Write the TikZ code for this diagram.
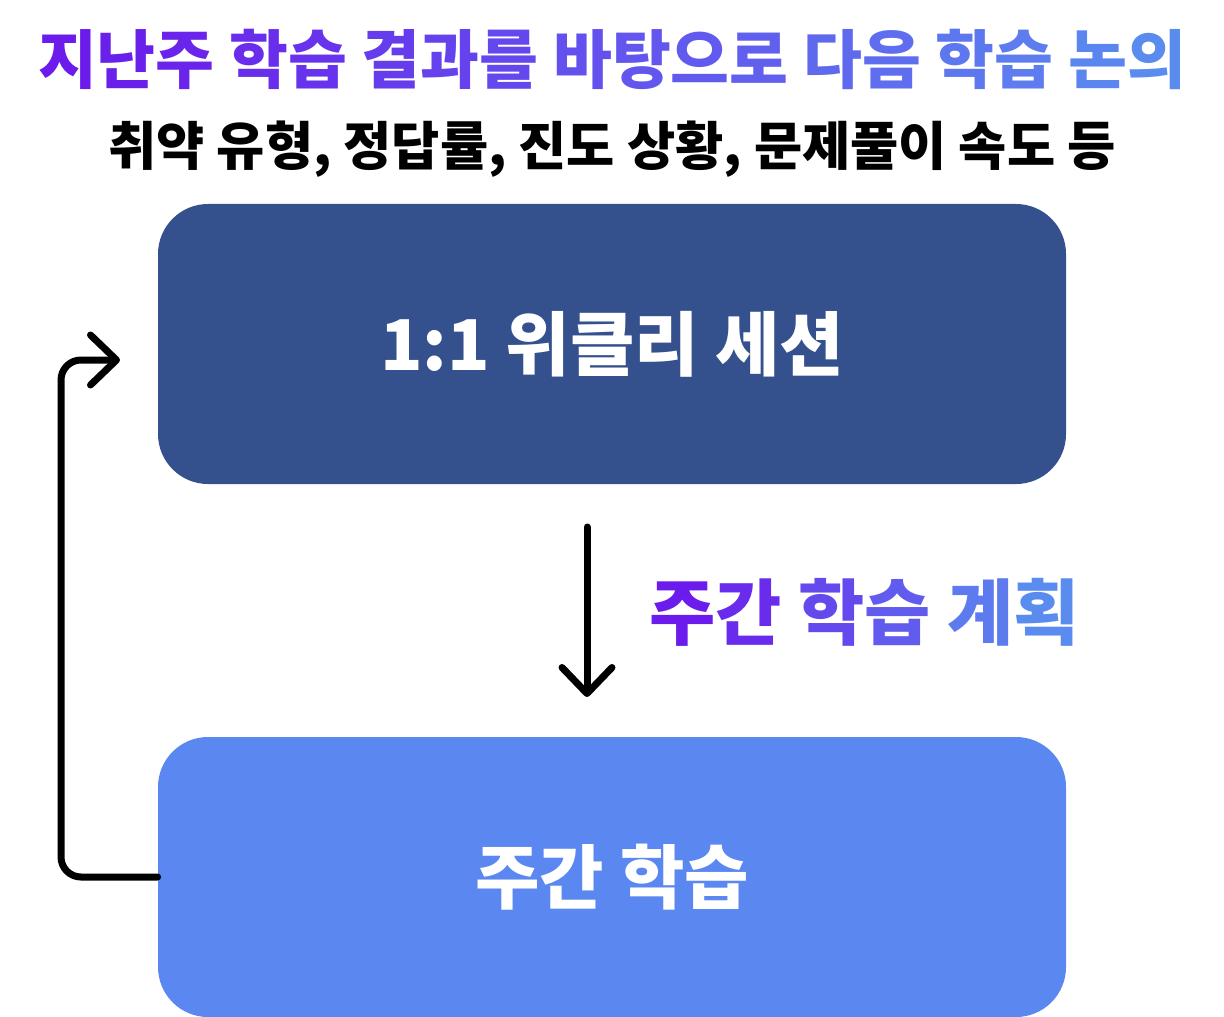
\documentclass[tikz,border=0pt]{standalone}
\usepackage{fontspec}
\setmainfont{Noto Sans CJK KR}
\usepackage{tikz}
\usetikzlibrary{arrows.meta}
\definecolor{gradA}{HTML}{6B1BEB}
\definecolor{gradB}{HTML}{5A8CF0}
\definecolor{sessionblue}{HTML}{34518D}
\definecolor{studyblue}{HTML}{5A87F0}
% one colour per syllable, purple to blue
\newcommand{\gradtext}[1]{%
  \foreach \s [count=\i] in {#1}{\xdef\gradn{\i}}%
  \foreach \s [count=\i] in {#1}{\pgfmathtruncatemacro\pct{100*(\i-1)/(\gradn-1)}\textcolor{gradB!\pct!gradA}{\s}}}

\begin{document}
\begin{tikzpicture}[x=0.5pt,y=-0.5pt,
  box/.style={rounded corners=25pt,minimum width=454pt,minimum height=140pt,text=white,
    font=\bfseries\fontsize{35}{38}\selectfont},
  flow/.style={line width=3.5pt,line cap=round,-{Straight Barb[length=13pt,width=25pt,round]}}]
  \useasboundingbox (0,0) rectangle (1224,1016);
  \node[font=\bfseries\fontsize{32}{35}\selectfont] (title) at (612,59)
    {\gradtext{지,난,주,~,학,습,~,결,과,를,~,바,탕,으,로,~,다,음,~,학,습,~,논,의}};
  \node[font=\bfseries\fontsize{26.2}{29}\selectfont] (sub) at (612,149) {취약 유형, 정답률, 진도 상황, 문제풀이 속도 등};
  \node[box,fill=sessionblue] (session) at (612,344) {1:1 위클리 세션};
  \node[box,fill=studyblue] (study) at (612,877) {주간 학습};
  \node[font=\bfseries\fontsize{36}{39}\selectfont,anchor=west] (plan) at (642,612)
    {\gradtext{주,간,~,학,습,~,계,획}};
  \coordinate (down1) at (587,527);
  \coordinate (down2) at (587,697);
  \coordinate (loopend) at (120,360);
  \draw[flow] (down1) -- (down2);
  \draw[flow,rounded corners=10pt] (study.west) -| (61,360) -- (loopend);
\end{tikzpicture}
\end{document}
